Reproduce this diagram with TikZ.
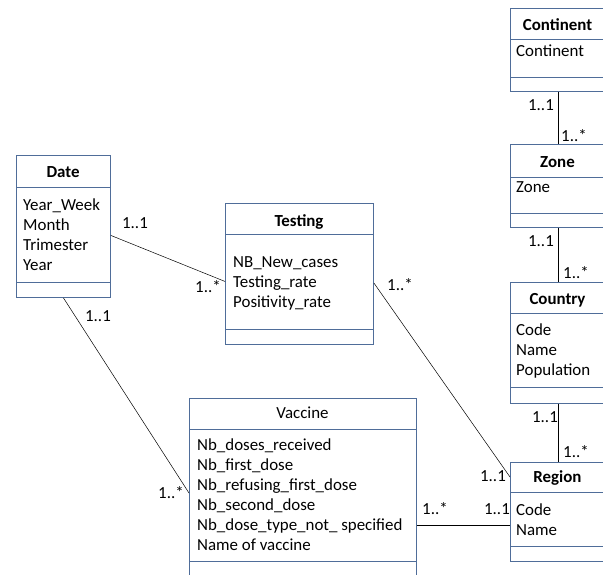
\documentclass[tikz,border=0pt]{standalone}
\usepackage{fontspec}
\setmainfont{Carlito}
\definecolor{umlblue}{RGB}{79,109,153}
\newcommand\umlfont{\fontsize{16.9}{20}\selectfont}

\begin{document}
\begin{tikzpicture}[x=1pt,y=-1pt,
	classbox/.style={draw=umlblue,line width=0.9pt,anchor=north west,inner sep=0pt},
	divider/.style={draw=umlblue,line width=0.9pt},
	title/.style={font=\umlfont\bfseries,anchor=base,inner sep=0pt},
	attr/.style={font=\umlfont,anchor=base west,inner sep=0pt},
	link/.style={draw=black,line width=0.5pt},
	mult/.style={font=\umlfont,anchor=base,inner sep=0pt}]
	\useasboundingbox (0,0) rectangle (603,574);
	% class boxes: name/left/top/width/height/header/footer
	\foreach \n/\x/\y/\w/\h/\hd/\ft in {date/16/155/94/142/32/127,
		testing/225/203/148/141/31/126, vaccine/189/398/227/180/31/163,
		continent/510/8/95/83/31/69, zone/510/144/95/83/33/69,
		country/510/282/95/121/31/105, region/510/462/95/99/30/84} {
		\node[classbox,minimum width=\w pt,minimum height=\h pt] (\n) at (\x,\y) {};
		\draw[divider] ([yshift=-\hd pt]\n.north west) -- ([yshift=-\hd pt]\n.north east);
		\draw[divider] ([yshift=-\ft pt]\n.north west) -- ([yshift=-\ft pt]\n.north east);
	}
	\node[title] (date-title) at (63,177) {Date};
	\node[title] (testing-title) at (299,226) {Testing};
	\node[title,font=\umlfont] (vaccine-title) at (302.5,418) {Vaccine};
	\node[title] (continent-title) at (557.5,30) {Continent};
	\node[title] (zone-title) at (557.5,167) {Zone};
	\node[title] (country-title) at (557.5,304) {Country};
	\node[title] (region-title) at (557.5,482) {Region};
	% attributes
	\foreach \t [count=\i] in {Year\_Week,Month,Trimester,Year}
		\node[attr] (date-\i) at (23,190+20*\i) {\t};
	\foreach \t [count=\i] in {NB\_New\_cases,Testing\_rate,Positivity\_rate}
		\node[attr] (testing-\i) at (233,247+20*\i) {\t};
	\foreach \t [count=\i] in {Nb\_doses\_received,Nb\_first\_dose,Nb\_refusing\_first\_dose,
		Nb\_second\_dose,Nb\_dose\_type\_not\_ specified,Name of vaccine}
		\node[attr] (vaccine-\i) at (197,430+20*\i) {\t};
	\node[attr] (continent-1) at (516,56) {Continent};
	\node[attr] (zone-1) at (516,192) {Zone};
	\foreach \t [count=\i] in {Code,Name,Population}
		\node[attr] (country-\i) at (516,315+20*\i) {\t};
	\foreach \t [count=\i] in {Code,Name}
		\node[attr] (region-\i) at (516,495+20*\i) {\t};
	% associations
	\draw[link] ([yshift=-9pt]date.east) -- ([yshift=-7.5pt]testing.west);
	\draw[link] (date.south) -- ([yshift=-95pt]vaccine.north west);
	\draw[link] ([yshift=-80pt]testing.north east) -- ([yshift=-15pt]region.north west);
	\draw[link] ([yshift=-127pt]vaccine.north east) -- ([yshift=-63pt]region.north west);
	\draw[link] (continent.south) -- (zone.north);
	\draw[link] (zone.south) -- (country.north);
	\draw[link] (country.south) -- (region.north);
	% multiplicities
	\node[mult] (m-dt1) at (135,228) {1..1};
	\node[mult] (m-dt2) at (208,292) {1..*};
	\node[mult] (m-dv1) at (98,321) {1..1};
	\node[mult] (m-dv2) at (171,498) {1..*};
	\node[mult] (m-tr1) at (400,290) {1..*};
	\node[mult] (m-tr2) at (493,481) {1..1};
	\node[mult] (m-vr1) at (435,514) {1..*};
	\node[mult] (m-vr2) at (497,514) {1..1};
	\node[mult] (m-cz1) at (541,110) {1..1};
	\node[mult] (m-cz2) at (574,141) {1..*};
	\node[mult] (m-zc1) at (541,246) {1..1};
	\node[mult] (m-zc2) at (576,278) {1..*};
	\node[mult] (m-cr1) at (545,422) {1..1};
	\node[mult] (m-cr2) at (576,457) {1..*};
\end{tikzpicture}
\end{document}
